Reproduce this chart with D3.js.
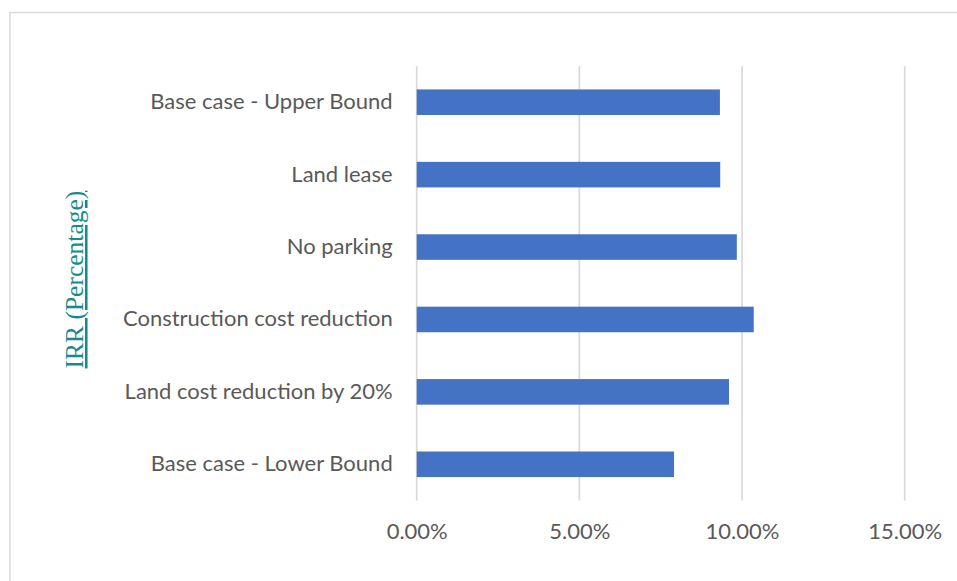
<!DOCTYPE html>
<html>
<head>
<meta charset="utf-8">
<script src="https://cdn.jsdelivr.net/npm/d3@7"></script>
<style>
  html, body { margin: 0; padding: 0; background: #ffffff; }
  svg { display: block; }
</style>
</head>
<body>
<svg id="chart" width="957" height="581"></svg>
<script>
// ---- data ----
const categories = [
  "Base case - Upper Bound",
  "Land lease",
  "No parking",
  "Construction cost reduction",
  "Land cost reduction by 20%",
  "Base case - Lower Bound"
];
const irrValues = [0.0932, 0.0933, 0.0984, 0.1036, 0.0960, 0.0791];
const xTicks = [0, 0.05, 0.10, 0.15];
const yTitle = "IRR (Percentage)";

// ---- layout ----
const svg = d3.select("#chart");
const W = 957, H = 581;
const plot = { left: 416.7, right: 904.7, top: 66, bottom: 500.5 };

// chart border
svg.append("rect")
  .attr("x", 10).attr("y", 12.5)
  .attr("width", W + 20).attr("height", H + 20)
  .attr("fill", "#ffffff")
  .attr("stroke", "#d9d9d9").attr("stroke-width", 1.5);

const x = d3.scaleLinear().domain([0, 0.15]).range([plot.left, plot.right]);
const y = d3.scaleBand().domain(categories)
  .range([plot.top, plot.bottom])
  .paddingInner(0.647).paddingOuter(0.3235);

// gridlines
svg.append("g").selectAll("line").data(xTicks).join("line")
  .attr("x1", d => x(d)).attr("x2", d => x(d))
  .attr("y1", plot.top).attr("y2", plot.bottom)
  .attr("stroke", "#d9d9d9").attr("stroke-width", 1.7);

// bars
svg.append("g").selectAll("rect").data(categories).join("rect")
  .attr("x", x(0))
  .attr("y", d => y(d))
  .attr("width", (d, i) => x(irrValues[i]) - x(0))
  .attr("height", y.bandwidth())
  .attr("fill", "#4472C4");

// x axis labels
const xAxis = d3.axisBottom(x).tickValues(xTicks)
  .tickFormat(d => (d * 100).toFixed(2) + "%")
  .tickSize(0).tickPadding(0);
const gx = svg.append("g").attr("transform", `translate(0,${plot.bottom})`).call(xAxis);
gx.select(".domain").remove();
gx.selectAll("text")
  .attr("dy", null).attr("y", 38.5)
  .attr("font-family", "Lato, 'Open Sans', sans-serif")
  .attr("font-size", 22)
  .attr("fill", "#595959");

// y axis labels
const yAxis = d3.axisLeft(y).tickSize(0).tickPadding(0);
const gy = svg.append("g").attr("transform", `translate(${plot.left - 24},0)`).call(yAxis);
gy.select(".domain").remove();
gy.selectAll("text")
  .attr("dy", null).attr("y", 7)
  .attr("x", 0)
  .attr("font-family", "Lato, 'Open Sans', sans-serif")
  .attr("font-size", 22)
  .attr("fill", "#595959");

// y title
svg.append("text")
  .attr("transform", "translate(83,279.6) rotate(-90)")
  .attr("text-anchor", "middle")
  .attr("font-family", "'Liberation Serif', 'Times New Roman', serif")
  .attr("font-size", 25.5)
  .attr("fill", "#168b8b")
  .style("text-decoration", "underline")
  .text(yTitle);
</script>
</body>
</html>
